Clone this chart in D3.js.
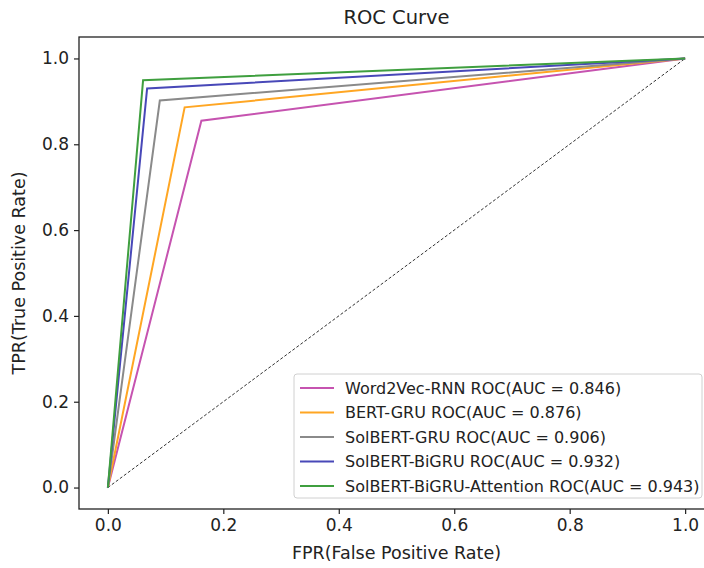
<!DOCTYPE html>
<html>
<head>
<meta charset="utf-8">
<script src="https://cdn.jsdelivr.net/npm/d3@7"></script>
<style>
  body { margin: 0; background: #fff; }
  svg { font-family: "DejaVu Sans", sans-serif; display: block; }
</style>
</head>
<body>
<svg id="chart" width="704" height="568"></svg>
<script>
// ROC corner points (FPR, TPR) per model
var models = ["Word2Vec-RNN", "BERT-GRU", "SolBERT-GRU", "SolBERT-BiGRU", "SolBERT-BiGRU-Attention"];
var aucs = [0.846, 0.876, 0.906, 0.932, 0.943];
var cornerFpr = [0.162, 0.133, 0.090, 0.068, 0.061];
var cornerTpr = [0.855, 0.886, 0.902, 0.930, 0.949];
var colors = ["#c653b0", "#ffa623", "#8a8a8a", "#4848b8", "#3f9f3f"];
var ticks = [0.0, 0.2, 0.4, 0.6, 0.8, 1.0];

var svg = d3.select("#chart");
var width = 704, height = 568;

// axes box (right spine is cut off in the original)
var boxLeft = 79, boxRight = 714, boxTop = 37, boxBottom = 509;

var x = d3.scaleLinear().domain([-0.05, 1.05]).range([boxLeft, boxRight]);
var y = d3.scaleLinear().domain([-0.05, 1.05]).range([boxBottom, boxTop]);

svg.append("rect").attr("width", width).attr("height", height).attr("fill", "#fff");

// chance line
svg.append("line")
    .attr("x1", x(0)).attr("y1", y(0))
    .attr("x2", x(1)).attr("y2", y(1))
    .style("stroke", "#333")
    .style("stroke-width", 1)
    .style("stroke-dasharray", "3,2");

var line = d3.line().x(d => x(d[0])).y(d => y(d[1]));

models.forEach(function(m, i) {
    var pts = [[0, 0], [cornerFpr[i], cornerTpr[i]], [1, 1]];
    svg.append("path")
        .attr("d", line(pts))
        .attr("fill", "none")
        .style("stroke", colors[i])
        .style("stroke-width", 2);
});

// axes
var xAxis = d3.axisBottom(x).tickValues(ticks).tickFormat(d3.format(".1f")).tickSize(5).tickPadding(5);
var yAxis = d3.axisLeft(y).tickValues(ticks).tickFormat(d3.format(".1f")).tickSize(5).tickPadding(5);

var gx = svg.append("g").attr("transform", "translate(0," + boxBottom + ")").call(xAxis);
var gy = svg.append("g").attr("transform", "translate(" + boxLeft + ",0)").call(yAxis);
[gx, gy].forEach(function(g) {
    g.select(".domain").remove();
    g.selectAll(".tick line").style("stroke", "#222").style("stroke-width", 1.2);
    g.selectAll(".tick text").style("font-size", "17px").style("fill", "#222")
        .style("font-family", "DejaVu Sans, sans-serif");
});

// spines
svg.append("rect")
    .attr("x", boxLeft).attr("y", boxTop)
    .attr("width", boxRight - boxLeft).attr("height", boxBottom - boxTop)
    .attr("fill", "none")
    .style("stroke", "#222")
    .style("stroke-width", 1.3);

// title and labels
svg.append("text")
    .attr("x", (boxLeft + boxRight) / 2).attr("y", 24)
    .attr("text-anchor", "middle")
    .style("font-size", "19.5px").style("fill", "#222")
    .text("ROC Curve");

svg.append("text")
    .attr("x", (boxLeft + boxRight) / 2).attr("y", 559)
    .attr("text-anchor", "middle")
    .style("font-size", "17.5px").style("fill", "#222")
    .text("FPR(False Positive Rate)");

svg.append("text")
    .attr("transform", "translate(25," + ((boxTop + boxBottom) / 2) + ") rotate(-90)")
    .attr("text-anchor", "middle")
    .style("font-size", "17.5px").style("fill", "#222")
    .text("TPR(True Positive Rate)");

// legend
var lg = svg.append("g").attr("transform", "translate(294,374)");
lg.append("rect")
    .attr("width", 408).attr("height", 124)
    .attr("rx", 3)
    .attr("fill", "#fff").attr("fill-opacity", 0.85)
    .style("stroke", "#d0d0d0");

models.forEach(function(m, i) {
    var row = lg.append("g").attr("transform", "translate(0," + (14 + i * 24.5) + ")");
    row.append("line")
        .attr("x1", 6).attr("x2", 40)
        .style("stroke", colors[i]).style("stroke-width", 2);
    row.append("text")
        .attr("x", 51).attr("dy", "0.35em")
        .style("font-size", "16px").style("fill", "#222")
        .text(m + " ROC(AUC = " + aucs[i].toFixed(3) + ")");
});
</script>
</body>
</html>
